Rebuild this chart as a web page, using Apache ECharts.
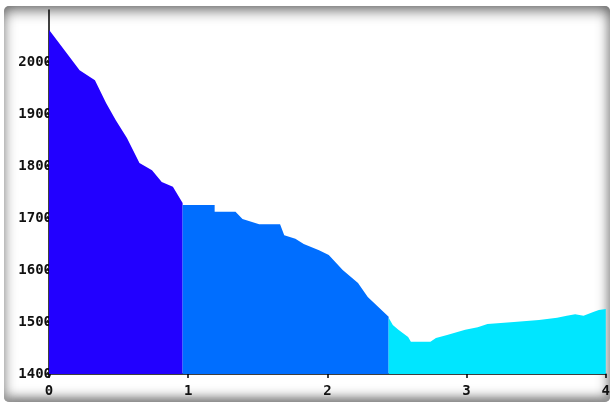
<!DOCTYPE html>
<html>
<head>
<meta charset="utf-8">
<script src="https://cdn.jsdelivr.net/npm/echarts@6/dist/echarts.min.js"></script>
<style>
  html, body { margin: 0; padding: 0; background: #fff; }
  #frame {
    position: absolute; left: 4px; top: 6px; width: 606px; height: 396px;
    border-radius: 5px; background: #fff;
    box-shadow: inset 0 12px 14px -8px #666, inset 10px 0 12px -8px #aaa,
                inset -11px 0 12px -8px #999, inset 0 -12px 12px -8px #666;
  }
  #chart { position: absolute; left: 0; top: 0; width: 613px; height: 406px; }
</style>
</head>
<body>
<div id="frame"></div>
<div id="chart"></div>
<script>
// Elevation profile, three segments (distance, elevation)
const segment1 = [
  [0.00, 2062], [0.22, 1984], [0.33, 1965], [0.41, 1921], [0.48, 1888],
  [0.56, 1854], [0.65, 1806], [0.74, 1792], [0.81, 1769], [0.89, 1760],
  [0.96, 1729]
];
const segment2 = [
  [0.96, 1725], [1.19, 1725], [1.19, 1712], [1.34, 1712], [1.39, 1698],
  [1.51, 1688], [1.66, 1688], [1.69, 1667], [1.77, 1660], [1.83, 1650],
  [1.94, 1638], [2.01, 1629], [2.11, 1600], [2.22, 1575], [2.29, 1548],
  [2.44, 1510]
];
const segment3 = [
  [2.44, 1508], [2.47, 1494], [2.51, 1485], [2.58, 1471], [2.60, 1462],
  [2.74, 1462], [2.78, 1469], [2.86, 1475], [2.99, 1485], [3.08, 1490],
  [3.15, 1496], [3.34, 1500], [3.52, 1504], [3.65, 1508], [3.72, 1512],
  [3.78, 1515], [3.84, 1512], [3.91, 1519], [3.95, 1523], [4.00, 1525]
];
const segmentColors = ['#2200ff', '#006eff', '#00e6ff'];
const xTicks = [0, 1, 2, 3, 4];
const yTicks = [1400, 1500, 1600, 1700, 1800, 1900, 2000];

const chart = echarts.init(document.getElementById('chart'));
const labelFont = { fontFamily: 'DejaVu Sans Mono', fontWeight: 'bold', fontSize: 14, color: '#111' };
function mk(data, color) {
  return {
    type: 'line', data: data, symbol: 'none', silent: true,
    lineStyle: { width: 0 }, itemStyle: { color: color },
    areaStyle: { color: color, opacity: 1, origin: 'start' }
  };
}
chart.setOption({
  animation: false,
  backgroundColor: 'transparent',
  grid: { left: 49, right: 4, top: 10, bottom: 32 },
  xAxis: {
    type: 'value', min: xTicks[0], max: xTicks[xTicks.length - 1], interval: 1,
    axisLine: { show: true, lineStyle: { color: '#000', width: 1.5 } },
    axisTick: { show: true, length: 4, lineStyle: { color: '#000', width: 1.5 } },
    axisLabel: Object.assign({ margin: 10 }, labelFont),
    splitLine: { show: false }
  },
  yAxis: {
    type: 'value', min: yTicks[0], max: 2100, interval: 100,
    axisLine: { show: true, lineStyle: { color: '#000', width: 1.5 } },
    axisTick: { show: true, length: 3, customValues: yTicks, lineStyle: { color: '#000', width: 1.5 } },
    axisLabel: Object.assign({ margin: -3, customValues: yTicks, formatter: v => String(v) }, labelFont),
    splitLine: { show: false }
  },
  series: [mk(segment1, segmentColors[0]), mk(segment2, segmentColors[1]), mk(segment3, segmentColors[2])]
});
</script>
</body>
</html>
